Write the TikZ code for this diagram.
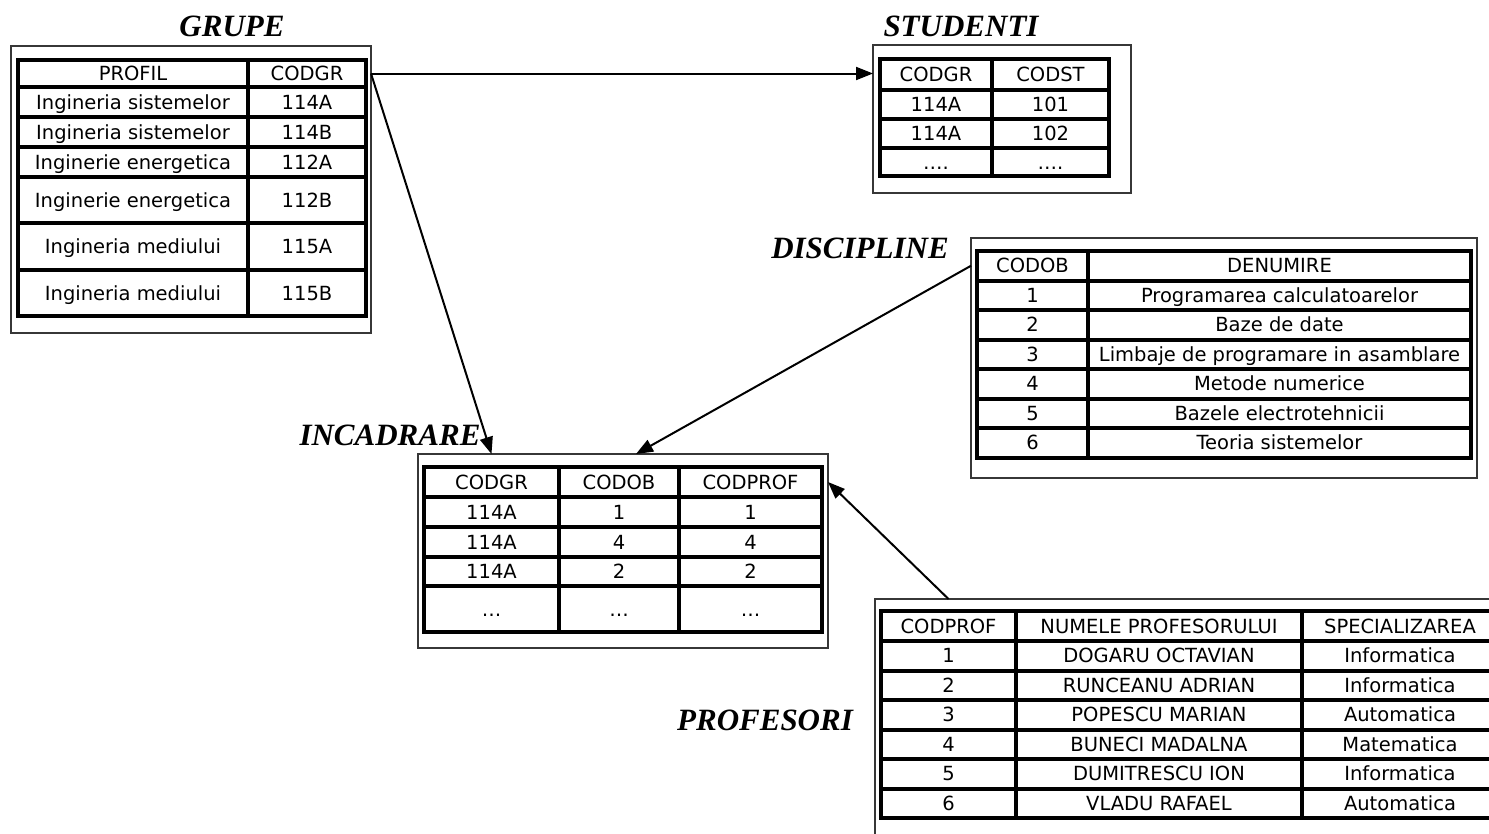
\documentclass[tikz,border=0pt]{standalone}
\usepackage{fontspec}
\setmainfont{DejaVu Sans}
\newfontfamily\titlefont{Liberation Serif}
\usetikzlibrary{matrix, arrows.meta}
\definecolor{framegray}{RGB}{55,55,55}
\tikzset{
  dbframe/.style={rectangle, draw=framegray, line width=1.6pt, inner sep=0pt,
    outer sep=0pt, anchor=north west},
  dbtable/.style={matrix of nodes, anchor=north west, inner sep=0pt, outer sep=0pt,
    row sep=-4pt, column sep=-4pt,
    nodes={rectangle, draw=black, line width=4pt, inner sep=0pt, outer sep=0pt,
      font=\fontsize{19.5}{23}\selectfont, text height=14pt, text depth=0pt,
      minimum height=30pt, anchor=center}},
  dbtitle/.style={font=\titlefont\bfseries\itshape\fontsize{31}{36}\selectfont},
  relarrow/.style={-{Triangle[length=17pt,width=13pt]}, line width=2pt, color=black}
}
\begin{document}
\begin{tikzpicture}[x=1pt, y=-1pt]
  \path[use as bounding box] (0,0) rectangle (1489,833);
  \clip (0,0) rectangle (1489,833);

  % GRUPE
  \node[dbtitle] (grupeT) at (232,26) {GRUPE};
  \node[dbframe, minimum width=360pt, minimum height=287pt] (grupeF) at (11,46) {};
  \matrix (grupe) [dbtable,
    column 1/.style={nodes={minimum width=230pt}},
    column 2/.style={nodes={minimum width=118pt}},
    row 1/.style={nodes={minimum height=27pt}},
    row 5/.style={nodes={minimum height=46pt}},
    row 6/.style={nodes={minimum height=47pt}},
    row 7/.style={nodes={minimum height=46pt}}] at (16,58) {
    PROFIL & CODGR \\
    Ingineria sistemelor & 114A \\
    Ingineria sistemelor & 114B \\
    Inginerie energetica & 112A \\
    Inginerie energetica & 112B \\
    Ingineria mediului & 115A \\
    Ingineria mediului & 115B \\
  };

  % STUDENTI
  \node[dbtitle] (studT) at (961,26) {STUDENTI};
  \node[dbframe, minimum width=258pt, minimum height=148pt] (studF) at (873,45) {};
  \matrix (stud) [dbtable,
    column 1/.style={nodes={minimum width=112pt}},
    column 2/.style={nodes={minimum width=117pt}},
    row 1/.style={nodes={minimum height=31pt}},
    row 2/.style={nodes={minimum height=29pt}},
    row 3/.style={nodes={minimum height=29pt}},
    row 4/.style={nodes={minimum height=28pt}}] at (878,57) {
    CODGR & CODST \\
    114A & 101 \\
    114A & 102 \\
    …. & …. \\
  };

  % DISCIPLINE
  \node[dbtitle] (discT) at (860,248) {DISCIPLINE};
  \node[dbframe, minimum width=506pt, minimum height=240pt] (discF) at (971,238) {};
  \matrix (disc) [dbtable,
    nodes={minimum height=29.5pt},
    column 1/.style={nodes={minimum width=111pt}},
    column 2/.style={nodes={minimum width=383pt}}] at (975,249) {
    CODOB & DENUMIRE \\
    1 & Programarea calculatoarelor \\
    2 & Baze de date \\
    3 & Limbaje de programare in asamblare \\
    4 & Metode numerice \\
    5 & Bazele electrotehnicii \\
    6 & Teoria sistemelor \\
  };

  % INCADRARE
  \node[dbtitle] (incT) at (390,435) {INCADRARE};
  \node[dbframe, minimum width=410pt, minimum height=194pt] (incF) at (418,454) {};
  \matrix (inc) [dbtable,
    column 1/.style={nodes={minimum width=135pt}},
    column 2/.style={nodes={minimum width=120pt}},
    column 3/.style={nodes={minimum width=143pt}},
    row 4/.style={nodes={minimum height=29pt}},
    row 5/.style={nodes={minimum height=46pt}}] at (422,465) {
    CODGR & CODOB & CODPROF \\
    114A & 1 & 1 \\
    114A & 4 & 4 \\
    114A & 2 & 2 \\
    … & … & … \\
  };

  % PROFESORI
  \node[dbtitle] (profT) at (765,720) {PROFESORI};
  \node[dbframe, minimum width=700pt, minimum height=300pt] (profF) at (875,599) {};
  \matrix (prof) [dbtable,
    nodes={minimum height=29.5pt},
    column 1/.style={nodes={minimum width=135pt}},
    column 2/.style={nodes={minimum width=286pt}},
    column 3/.style={nodes={minimum width=196pt}},
    row 1/.style={nodes={minimum height=30pt}}] at (879,609) {
    CODPROF & NUMELE PROFESORULUI & SPECIALIZAREA \\
    1 & DOGARU OCTAVIAN & Informatica \\
    2 & RUNCEANU ADRIAN & Informatica \\
    3 & POPESCU MARIAN & Automatica \\
    4 & BUNECI MADALNA & Matematica \\
    5 & DUMITRESCU ION & Informatica \\
    6 & VLADU RAFAEL & Automatica \\
  };

  % relations
  \draw[relarrow] (grupeF.east |- grupe-1-2) -- (studF.west |- grupe-1-2);
  \draw[relarrow] (grupeF.east |- grupe-1-2) -- (incF.north -| inc-1-1);
  \draw[relarrow] (discF.west |- disc-1-1) -- ([xshift=13pt]incF.north);
  \draw[relarrow] (profF.north -| prof-1-1) -- (incF.east |- inc-1-3);
\end{tikzpicture}
\end{document}
